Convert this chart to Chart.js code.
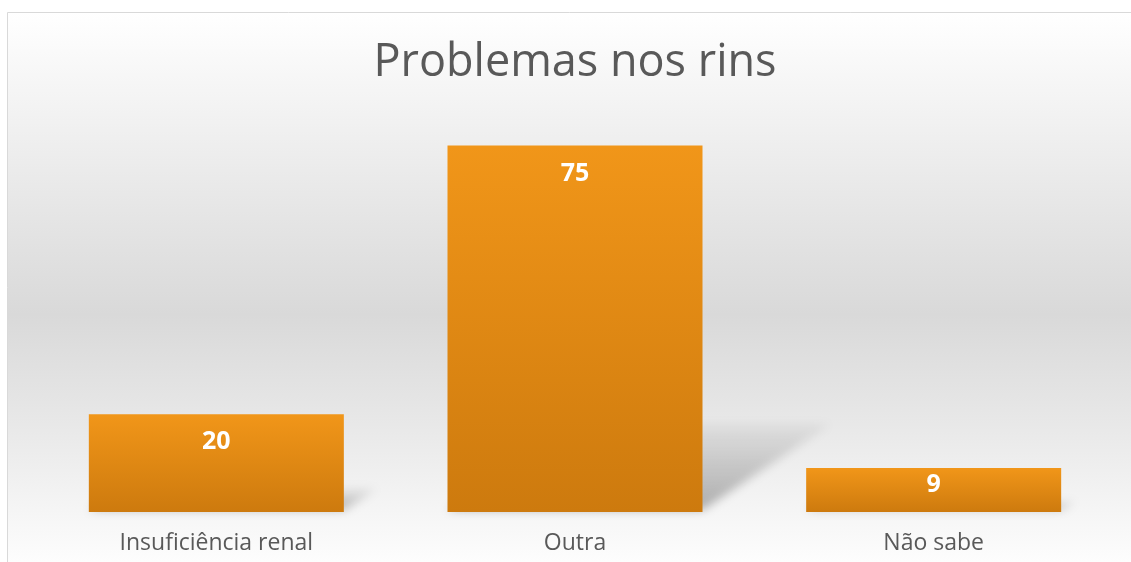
<!DOCTYPE html>
<html><head><meta charset="utf-8">
<script src="https://cdn.jsdelivr.net/npm/chart.js@4/dist/chart.umd.min.js"></script>
<style>html,body{margin:0;padding:0;background:#fff;}#wrap{width:1131px;height:562px;}</style>
</head><body><div id="wrap"><canvas id="c" width="1131" height="562"></canvas></div>
<script>
const categories = ["Insuficiência renal", "Outra", "Não sabe"];
const values = [20, 75, 9];
const chartTitle = "Problemas nos rins";

const FONT = "'Open Sans', 'Noto Sans', sans-serif";

const bgPlugin = {
  id: 'bg',
  beforeDraw(chart) {
    const ctx = chart.ctx, W = chart.width, H = chart.height;
    ctx.save();
    ctx.fillStyle = '#ffffff';
    ctx.fillRect(0, 0, W, H);
    const g = ctx.createLinearGradient(0, 12, 0, H);
    g.addColorStop(0, '#ffffff');
    g.addColorStop(0.2, '#f1f1f1');
    g.addColorStop(0.55, '#d9d9d9');
    g.addColorStop(0.75, '#e8e8e8');
    g.addColorStop(1, '#fdfdfd');
    ctx.fillStyle = g;
    ctx.fillRect(8, 12, W - 8, H - 12);
    ctx.strokeStyle = '#d9d9d9';
    ctx.lineWidth = 1;
    ctx.beginPath();
    ctx.moveTo(7.5, H); ctx.lineTo(7.5, 12.5); ctx.lineTo(W, 12.5);
    ctx.stroke();
    ctx.restore();
  }
};

const shadowPlugin = {
  id: 'shadow',
  beforeDatasetsDraw(chart) {
    const ctx = chart.ctx;
    const meta = chart.getDatasetMeta(0);
    ctx.save();
    meta.data.forEach(el => {
      const { x, y, base, width } = el.getProps(['x', 'y', 'base', 'width'], true);
      const h = base - y;
      const l = x - width / 2, r = x + width / 2;
      const k = 0.24 * h, s = 0.35 * h;
      const g = ctx.createLinearGradient(0, base, 0, base - k);
      g.addColorStop(0, 'rgba(0,0,0,0.30)');
      g.addColorStop(1, 'rgba(0,0,0,0.04)');
      ctx.filter = 'blur(5px)';
      ctx.fillStyle = g;
      ctx.beginPath();
      ctx.moveTo(l, base - 2);
      ctx.lineTo(r, base - 2);
      ctx.lineTo(r + s, base - k);
      ctx.lineTo(l + s, base - k);
      ctx.closePath();
      ctx.fill();
    });
    ctx.restore();
  }
};

const labelPlugin = {
  id: 'vlabels',
  afterDatasetsDraw(chart) {
    const ctx = chart.ctx;
    const meta = chart.getDatasetMeta(0);
    ctx.save();
    ctx.fillStyle = '#ffffff';
    ctx.font = "bold 25px " + FONT;
    ctx.textAlign = 'center';
    ctx.textBaseline = 'middle';
    meta.data.forEach((el, i) => {
      const { x, y, base } = el.getProps(['x', 'y', 'base'], true);
      const off = Math.min(28, (base - y) * 0.38);
      ctx.fillText(String(values[i]), x, y + off);
    });
    ctx.restore();
  }
};

new Chart(document.getElementById('c'), {
  type: 'bar',
  data: {
    labels: categories,
    datasets: [{
      data: values,
      backgroundColor(ctx) {
        const chart = ctx.chart;
        const ys = chart.scales.y;
        if (!ys || ctx.dataIndex === undefined) return '#e8901a';
        const top = ys.getPixelForValue(values[ctx.dataIndex]);
        const bot = ys.getPixelForValue(0);
        if (!isFinite(top) || !isFinite(bot) || top === bot) return '#e8901a';
        const g = chart.ctx.createLinearGradient(0, top, 0, bot);
        g.addColorStop(0, '#f19619');
        g.addColorStop(1, '#cd7a0e');
        return g;
      },
      borderWidth: 0,
      barPercentage: 0.711,
      categoryPercentage: 1.0
    }]
  },
  options: {
    responsive: false,
    animation: false,
    devicePixelRatio: 1,
    layout: { padding: { left: 37, right: 18, top: 12, bottom: 0 } },
    plugins: {
      legend: { display: false },
      tooltip: { enabled: false },
      title: {
        display: true,
        text: chartTitle,
        color: '#595959',
        font: { family: FONT, size: 45, weight: 'normal', lineHeight: 1.2 },
        padding: { top: 24, bottom: 31 }
      }
    },
    scales: {
      x: {
        grid: { display: false, drawTicks: false },
        border: { display: false },
        ticks: { color: '#595959', font: { family: FONT, size: 23 }, padding: 18 },
        afterFit(scale) { scale.height = 50; }
      },
      y: {
        display: false,
        min: 0,
        max: 80
      }
    }
  },
  plugins: [bgPlugin, shadowPlugin, labelPlugin]
});
</script></body></html>
